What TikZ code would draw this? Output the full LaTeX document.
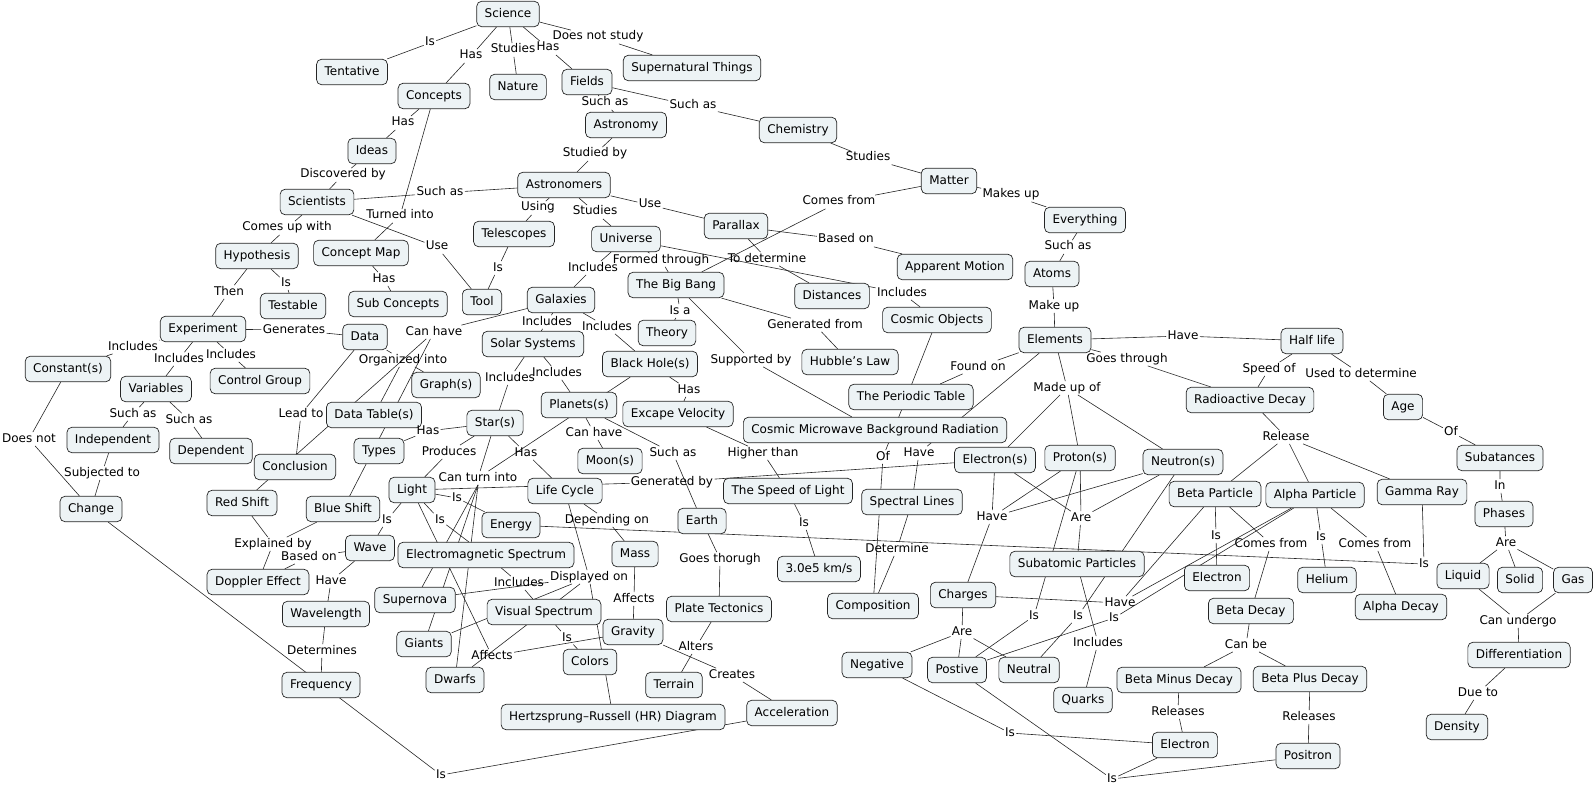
\documentclass[tikz,border=0pt]{standalone}
\usepackage{fontspec}
\setmainfont{DejaVu Sans}
\definecolor{cfill}{RGB}{237,243,245}
\pgfdeclarelayer{bg}
\pgfsetlayers{bg,main}
\newcommand{\cmfont}{\fontsize{12}{14}\selectfont}
\begin{document}
\begin{tikzpicture}[x=1pt,y=-1pt,
  cpt/.style={draw=black!85, fill=cfill, rounded corners=5pt, line width=0.7pt, inner xsep=8pt, inner ysep=0pt, minimum height=25.5pt, text height=9pt, text depth=2.5pt, font=\cmfont},
  lbl/.style={inner sep=1.2pt, font=\cmfont, text height=8.5pt, text depth=2.5pt},
  con/.style={line width=0.6pt, draw=black!85}]
\useasboundingbox (0,0) rectangle (1594,786);
% concepts
\node[cpt] (science) at (508,14) {Science};
\node[cpt] (tentative) at (352,72) {Tentative};
\node[cpt] (concepts) at (434,96) {Concepts};
\node[cpt] (nature) at (518,87) {Nature};
\node[cpt] (fields) at (587,82) {Fields};
\node[cpt] (supernatural) at (692,68) {Supernatural Things};
\node[cpt] (astronomy) at (626,125) {Astronomy};
\node[cpt] (chemistry) at (798,130) {Chemistry};
\node[cpt] (ideas) at (372,151) {Ideas};
\node[cpt] (matter) at (949,181) {Matter};
\node[cpt] (scientists) at (317,202) {Scientists};
\node[cpt] (astronomers) at (564,185) {Astronomers};
\node[cpt] (everything) at (1085,220) {Everything};
\node[cpt] (parallax) at (736,226) {Parallax};
\node[cpt] (telescopes) at (514,234) {Telescopes};
\node[cpt] (universe) at (626,239) {Universe};
\node[cpt] (hypothesis) at (257,256) {Hypothesis};
\node[cpt] (conceptmap) at (361,253) {Concept Map};
\node[cpt] (apparent) at (955,267) {Apparent Motion};
\node[cpt] (atoms) at (1052,274) {Atoms};
\node[cpt] (bigbang) at (676,285) {The Big Bang};
\node[cpt] (distances) at (832,296) {Distances};
\node[cpt] (galaxies) at (561,300) {Galaxies};
\node[cpt] (tool) at (482,302) {Tool};
\node[cpt] (testable) at (293,306) {Testable};
\node[cpt] (subconcepts) at (398,304) {Sub Concepts};
\node[cpt] (cosmic) at (937,320) {Cosmic Objects};
\node[cpt] (experiment) at (203,329) {Experiment};
\node[cpt] (theory) at (667,333) {Theory};
\node[cpt] (data) at (365,337) {Data};
\node[cpt] (elements) at (1055,340) {Elements};
\node[cpt] (halflife) at (1312,341) {Half life};
\node[cpt] (solar) at (533,344) {Solar Systems};
\node[cpt] (hubble) at (850,362) {Hubble's Law};
\node[cpt] (blackhole) at (650,364) {Black Hole(s)};
\node[cpt] (constant) at (68,369) {Constant(s)};
\node[cpt] (control) at (260,381) {Control Group};
\node[cpt] (graphs) at (446,385) {Graph(s)};
\node[cpt] (variables) at (156,389) {Variables};
\node[cpt] (periodic) at (911,397) {The Periodic Table};
\node[cpt] (radioactive) at (1250,400) {Radioactive Decay};
\node[cpt] (planets) at (579,405) {Planets(s)};
\node[cpt] (age) at (1403,407) {Age};
\node[cpt] (excape) at (678,414) {Excape Velocity};
\node[cpt] (datatable) at (374,415) {Data Table(s)};
\node[cpt] (star) at (495,423) {Star(s)};
\node[cpt] (cmbr) at (875,430) {Cosmic Microwave Background Radiation};
\node[cpt] (independent) at (113,440) {Independent};
\node[cpt] (dependent) at (211,451) {Dependent};
\node[cpt] (types) at (379,451) {Types};
\node[cpt] (electrons) at (995,460) {Electron(s)};
\node[cpt] (protons) at (1080,458) {Proton(s)};
\node[cpt] (neutrons) at (1183,462) {Neutron(s)};
\node[cpt] (subatances) at (1500,458) {Subatances};
\node[cpt] (moons) at (610,461) {Moon(s)};
\node[cpt] (conclusion) at (295,467) {Conclusion};
\node[cpt] (light) at (412,490) {Light};
\node[cpt] (lifecycle) at (565,491) {Life Cycle};
\node[cpt] (speedlight) at (788,491) {The Speed of Light};
\node[cpt] (betap) at (1215,494) {Beta Particle};
\node[cpt] (alphap) at (1315,495) {Alpha Particle};
\node[cpt] (gamma) at (1422,492) {Gamma Ray};
\node[cpt] (spectral) at (912,502) {Spectral Lines};
\node[cpt] (redshift) at (242,503) {Red Shift};
\node[cpt] (blueshift) at (343,509) {Blue Shift};
\node[cpt] (change) at (91,509) {Change};
\node[cpt] (phases) at (1504,514) {Phases};
\node[cpt] (earth) at (702,521) {Earth};
\node[cpt] (energy) at (511,525) {Energy};
\node[cpt] (wave) at (370,548) {Wave};
\node[cpt] (em) at (486,555) {Electromagnetic Spectrum};
\node[cpt] (mass) at (635,554) {Mass};
\node[cpt] (subatomic) at (1077,564) {Subatomic Particles};
\node[cpt] (speedval) at (819,569) {3.0e5 km/s};
\node[cpt] (electronmid) at (1217,578) {Electron};
\node[cpt] (helium) at (1327,580) {Helium};
\node[cpt] (liquid) at (1463,576) {Liquid};
\node[cpt] (solid) at (1520,580) {Solid};
\node[cpt] (gas) at (1573,580) {Gas};
\node[cpt] (doppler) at (258,582) {Doppler Effect};
\node[cpt] (charges) at (963,595) {Charges};
\node[cpt] (supernova) at (415,600) {Supernova};
\node[cpt] (composition) at (873,606) {Composition};
\node[cpt] (alphadecay) at (1401,607) {Alpha Decay};
\node[cpt] (betadecay) at (1251,611) {Beta Decay};
\node[cpt] (visual) at (544,612) {Visual Spectrum};
\node[cpt] (platetect) at (719,609) {Plate Tectonics};
\node[cpt] (wavelength) at (326,614) {Wavelength};
\node[cpt] (gravity) at (633,632) {Gravity};
\node[cpt] (giants) at (424,644) {Giants};
\node[cpt] (differentiation) at (1519,655) {Differentiation};
\node[cpt] (colors) at (590,662) {Colors};
\node[cpt] (negative) at (877,665) {Negative};
\node[cpt] (positive) at (957,670) {Postive};
\node[cpt] (neutral) at (1029,670) {Neutral};
\node[cpt] (betaminus) at (1179,680) {Beta Minus Decay};
\node[cpt] (betaplus) at (1310,679) {Beta Plus Decay};
\node[cpt] (dwarfs) at (455,680) {Dwarfs};
\node[cpt] (terrain) at (674,685) {Terrain};
\node[cpt] (frequency) at (321,685) {Frequency};
\node[cpt] (quarks) at (1083,700) {Quarks};
\node[cpt] (acceleration) at (792,713) {Acceleration};
\node[cpt] (hr) at (613,717) {Hertzsprung--Russell (HR) Diagram};
\node[cpt] (density) at (1457,727) {Density};
\node[cpt] (electronbot) at (1185,745) {Electron};
\node[cpt] (positron) at (1308,756) {Positron};
% linking phrases
\node[lbl] (l1) at (430,43) {Is};
\node[lbl] (l2) at (471,56) {Has};
\node[lbl] (l3) at (513,50) {Studies};
\node[lbl] (l4) at (548,48) {Has};
\node[lbl] (l5) at (598,37) {Does not study};
\node[lbl] (l6) at (403,123) {Has};
\node[lbl] (l7) at (343,175) {Discovered by};
\node[lbl] (l8) at (287,228) {Comes up with};
\node[lbl] (l9) at (400,216) {Turned into};
\node[lbl] (l10) at (440,193) {Such as};
\node[lbl] (l11) at (437,247) {Use};
\node[lbl] (l12) at (605,103) {Such as};
\node[lbl] (l13) at (693,106) {Such as};
\node[lbl] (l14) at (595,154) {Studied by};
\node[lbl] (l15) at (868,158) {Studies};
\node[lbl] (l16) at (1011,195) {Makes up};
\node[lbl] (l17) at (839,202) {Comes from};
\node[lbl] (l18) at (538,208) {Using};
\node[lbl] (l19) at (595,212) {Studies};
\node[lbl] (l20) at (650,205) {Use};
\node[lbl] (l21) at (846,240) {Based on};
\node[lbl] (l22) at (767,259) {To determine};
\node[lbl] (l23) at (1068,247) {Such as};
\node[lbl] (l24) at (661,260) {Formed through};
\node[lbl] (l25) at (593,268) {Includes};
\node[lbl] (l26) at (902,293) {Includes};
\node[lbl] (l27) at (498,268) {Is};
\node[lbl] (l28) at (384,279) {Has};
\node[lbl] (l29) at (229,292) {Then};
\node[lbl] (l30) at (286,283) {Is};
\node[lbl] (l31) at (1054,306) {Make up};
\node[lbl] (l32) at (680,311) {Is a};
\node[lbl] (l33) at (815,325) {Generated from};
\node[lbl] (l34) at (294,330) {Generates};
\node[lbl] (l35) at (133,347) {Includes};
\node[lbl] (l36) at (179,359) {Includes};
\node[lbl] (l37) at (231,355) {Includes};
\node[lbl] (l38) at (547,322) {Includes};
\node[lbl] (l39) at (607,327) {Includes};
\node[lbl] (l40) at (434,332) {Can have};
\node[lbl] (l41) at (403,360) {Organized into};
\node[lbl] (l42) at (751,360) {Supported by};
\node[lbl] (l43) at (1183,336) {Have};
\node[lbl] (l44) at (978,367) {Found on};
\node[lbl] (l45) at (1127,359) {Goes through};
\node[lbl] (l46) at (1067,388) {Made up of};
\node[lbl] (l47) at (1269,369) {Speed of};
\node[lbl] (l48) at (1361,374) {Used to determine};
\node[lbl] (l49) at (510,378) {Includes};
\node[lbl] (l50) at (557,373) {Includes};
\node[lbl] (l51) at (689,390) {Has};
\node[lbl] (l52) at (301,414) {Lead to};
\node[lbl] (l53) at (133,414) {Such as};
\node[lbl] (l54) at (189,420) {Such as};
\node[lbl] (l55) at (29,439) {Does not};
\node[lbl] (l56) at (428,431) {Has};
\node[lbl] (l57) at (449,452) {Produces};
\node[lbl] (l58) at (526,453) {Has};
\node[lbl] (l59) at (594,433) {Can have};
\node[lbl] (l60) at (673,453) {Such as};
\node[lbl] (l61) at (763,453) {Higher than};
\node[lbl] (l62) at (1286,437) {Release};
\node[lbl] (l63) at (1451,432) {Of};
\node[lbl] (l64) at (883,457) {Of};
\node[lbl] (l65) at (919,453) {Have};
\node[lbl] (l66) at (102,473) {Subjected to};
\node[lbl] (l67) at (478,478) {Can turn into};
\node[lbl] (l68) at (672,482) {Generated by};
\node[lbl] (l69) at (1500,486) {In};
\node[lbl] (l70) at (457,498) {Is};
\node[lbl] (l71) at (440,520) {Is};
\node[lbl] (l72) at (387,520) {Is};
\node[lbl] (l73) at (607,520) {Depending on};
\node[lbl] (l74) at (992,517) {Have};
\node[lbl] (l75) at (1081,518) {Are};
\node[lbl] (l76) at (804,523) {Is};
\node[lbl] (l77) at (273,544) {Explained by};
\node[lbl] (l78) at (309,557) {Based on};
\node[lbl] (l79) at (331,581) {Have};
\node[lbl] (l80) at (1216,536) {Is};
\node[lbl] (l81) at (1271,544) {Comes from};
\node[lbl] (l82) at (1321,537) {Is};
\node[lbl] (l83) at (1375,544) {Comes from};
\node[lbl] (l84) at (1424,564) {Is};
\node[lbl] (l85) at (1506,543) {Are};
\node[lbl] (l86) at (897,549) {Determine};
\node[lbl] (l87) at (720,559) {Goes thorugh};
\node[lbl] (l88) at (519,583) {Includes};
\node[lbl] (l89) at (589,577) {Displayed on};
\node[lbl] (l90) at (634,599) {Affects};
\node[lbl] (l91) at (1120,603) {Have};
\node[lbl] (l92) at (1114,618) {Is};
\node[lbl] (l93) at (1034,616) {Is};
\node[lbl] (l94) at (1078,616) {Is};
\node[lbl] (l95) at (1518,621) {Can undergo};
\node[lbl] (l96) at (962,632) {Are};
\node[lbl] (l97) at (1098,643) {Includes};
\node[lbl] (l98) at (1246,645) {Can be};
\node[lbl] (l99) at (567,638) {Is};
\node[lbl] (l100) at (492,656) {Affects};
\node[lbl] (l101) at (696,647) {Alters};
\node[lbl] (l102) at (322,651) {Determines};
\node[lbl] (l103) at (732,675) {Creates};
\node[lbl] (l104) at (1478,693) {Due to};
\node[lbl] (l105) at (1178,712) {Releases};
\node[lbl] (l106) at (1309,717) {Releases};
\node[lbl] (l107) at (1010,733) {Is};
\node[lbl] (l108) at (1112,779) {Is};
\node[lbl] (l109) at (441,775) {Is};
% connectors
\begin{pgfonlayer}{bg}
\begin{scope}[con]
\draw (science)--(l1)--(tentative);
\draw (science)--(l2)--(concepts);
\draw (science)--(l3)--(nature);
\draw (science)--(l4)--(fields);
\draw (science)--(l5)--(supernatural);
\draw (concepts)--(l6)--(ideas);
\draw (ideas)--(l7)--(scientists);
\draw (scientists)--(l8)--(hypothesis);
\draw (concepts)--(l9)--(conceptmap);
\draw (scientists)--(l10)--(astronomers);
\draw (scientists)--(l11)--(tool);
\draw (fields)--(l12)--(astronomy);
\draw (fields)--(l13)--(chemistry);
\draw (astronomy)--(l14)--(astronomers);
\draw (chemistry)--(l15)--(matter);
\draw (matter)--(l16)--(everything);
\draw (matter)--(l17)--(bigbang);
\draw (astronomers)--(l18)--(telescopes);
\draw (astronomers)--(l19)--(universe);
\draw (astronomers)--(l20)--(parallax);
\draw (parallax)--(l21)--(apparent);
\draw (parallax)--(l22)--(distances);
\draw (everything)--(l23)--(atoms);
\draw (universe)--(l24)--(bigbang);
\draw (universe)--(l25)--(galaxies);
\draw (universe)--(l26)--(cosmic);
\draw (telescopes)--(l27)--(tool);
\draw (conceptmap)--(l28)--(subconcepts);
\draw (hypothesis)--(l29)--(experiment);
\draw (hypothesis)--(l30)--(testable);
\draw (atoms)--(l31)--(elements);
\draw (bigbang)--(l32)--(theory);
\draw (bigbang)--(l33)--(hubble);
\draw (experiment)--(l34)--(data);
\draw (experiment)--(l35)--(constant);
\draw (experiment)--(l36)--(variables);
\draw (experiment)--(l37)--(control);
\draw (galaxies)--(l38)--(solar);
\draw (galaxies)--(l39)--(blackhole);
\draw (galaxies)--(l40)--(redshift); \draw (l40)--(blueshift);
\draw (data)--(l41)--(datatable); \draw (l41)--(graphs);
\draw (bigbang)--(l42)--(cmbr);
\draw (elements)--(l43)--(halflife);
\draw (elements)--(l44)--(periodic);
\draw (elements)--(l45)--(radioactive);
\draw (elements)--(l46)--(electrons); \draw (l46)--(protons); \draw (l46)--(neutrons);
\draw (halflife)--(l47)--(radioactive);
\draw (halflife)--(l48)--(age);
\draw (solar)--(l49)--(star);
\draw (solar)--(l50)--(planets);
\draw (blackhole)--(l51)--(excape);
\draw (data)--(l52)--(conclusion);
\draw (variables)--(l53)--(independent);
\draw (variables)--(l54)--(dependent);
\draw (constant)--(l55)--(change);
\draw (star)--(l56)--(types);
\draw (star)--(l57)--(light);
\draw (star)--(l58)--(lifecycle);
\draw (planets)--(l59)--(moons);
\draw (planets)--(l60)--(earth);
\draw (excape)--(l61)--(speedlight);
\draw (radioactive)--(l62)--(betap); \draw (l62)--(alphap); \draw (l62)--(gamma);
\draw (age)--(l63)--(subatances);
\draw (cosmic)--(l64)--(composition);
\draw (elements)--(l65)--(spectral);
\draw (independent)--(l66)--(change);
\draw (star)--(l67); \draw (l67)--(blackhole);
\draw (l67.south)--(supernova); \draw (l67.south)--(giants); \draw (l67.south)--(dwarfs);
\draw (light)--(l68)--(electrons);
\draw (subatances)--(l69)--(phases);
\draw (light)--(l70)--(energy);
\draw (light)--(l71)--(em);
\draw (light)--(l72)--(wave);
\draw (lifecycle)--(l73)--(mass);
\draw (electrons)--(l74)--(charges); \draw (protons)--(l74); \draw (neutrons)--(l74);
\draw (electrons)--(l75)--(subatomic); \draw (protons)--(l75); \draw (neutrons)--(l75);
\draw (speedlight)--(l76)--(speedval);
\draw (redshift)--(l77)--(doppler); \draw (blueshift)--(l77);
\draw (wave)--(l78)--(doppler);
\draw (wave)--(l79)--(wavelength);
\draw (betap)--(l80)--(electronmid);
\draw (betap)--(l81)--(betadecay);
\draw (alphap)--(l82)--(helium);
\draw (alphap)--(l83)--(alphadecay);
\draw (gamma)--(l84)--(energy);
\draw (phases)--(l85)--(liquid); \draw (l85)--(solid); \draw (l85)--(gas);
\draw (spectral)--(l86)--(composition);
\draw (earth)--(l87)--(platetect);
\draw (em)--(l88)--(visual);
\draw (supernova)--(l89)--(hr); \draw (giants)--(l89); \draw (dwarfs)--(l89); \draw (lifecycle)--(l89);
\draw (mass)--(l90)--(gravity);
\draw (betap)--(l91)--(charges); \draw (alphap)--(l91);
\draw (alphap)--(l92)--(positive);
\draw (protons)--(l93)--(positive);
\draw (neutrons)--(l94)--(neutral);
\draw (liquid)--(l95)--(differentiation); \draw (gas)--(l95);
\draw (charges)--(l96)--(negative); \draw (l96)--(positive); \draw (l96)--(neutral);
\draw (subatomic)--(l97)--(quarks);
\draw (betadecay)--(l98)--(betaminus); \draw (l98)--(betaplus);
\draw (visual)--(l99)--(colors);
\draw (gravity)--(l100)--(light);
\draw (platetect)--(l101)--(terrain);
\draw (wavelength)--(l102)--(frequency);
\draw (gravity)--(l103)--(acceleration);
\draw (differentiation)--(l104)--(density);
\draw (betaminus)--(l105)--(electronbot);
\draw (betaplus)--(l106)--(positron);
\draw (negative)--(l107)--(electronbot);
\draw (positive)--(l108)--(positron); \draw (l108)--(electronbot);
\draw (change)--(l109)--(acceleration);
\end{scope}
\end{pgfonlayer}
\end{tikzpicture}
\end{document}
